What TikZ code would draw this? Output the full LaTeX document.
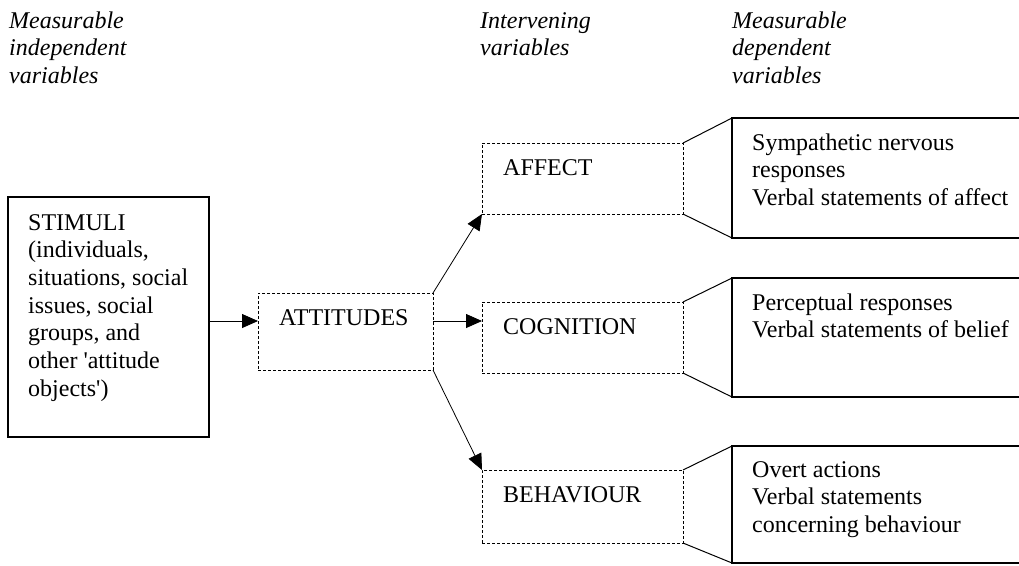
\documentclass[tikz,border=0pt]{standalone}
\usepackage{fontspec}
\setmainfont{Liberation Serif}
\usetikzlibrary{arrows.meta}
\newcommand{\zeilen}[1]{\begin{tabular}[t]{@{}l@{}}#1\end{tabular}}
\tikzset{rahmen/.style = {
    shape=rectangle, draw=black, line width=1.1pt, outer sep=0pt, anchor=north west
}}
\tikzset{strichrahmen/.style = {
    shape=rectangle, draw=black, line width=0.9pt, dash pattern=on 3pt off 2pt,
    outer sep=0pt, anchor=north west
}}
\tikzset{pfeil/.style = {
    draw=black, line width=0.8pt, -{Triangle[length=16pt, width=14pt]}
}}
\tikzset{linie/.style = {
    draw=black, line width=1pt
}}
\tikzset{schrift/.style = {
    anchor=base west, inner sep=0pt, font=\fontsize{24}{27.7}\selectfont
}}
\tikzset{kopf/.style = {
    schrift, font=\fontsize{24}{27.7}\selectfont\itshape
}}

\begin{document}
\begin{tikzpicture}[x=1pt, y=-1pt]
  \useasboundingbox (0,0) rectangle (1019,565);
  % Spaltenkoepfe
  \node[kopf] (kopfa) at (9,28) {\zeilen{Measurable\\independent\\variables}};
  \node[kopf] (kopfb) at (480,28) {\zeilen{Intervening\\variables}};
  \node[kopf] (kopfc) at (732,28) {\zeilen{Measurable\\dependent\\variables}};
  % Kaesten
  \node[rahmen, minimum width=201pt, minimum height=240pt] (stimuli) at (8,197) {};
  \node[strichrahmen, minimum width=175pt, minimum height=77pt] (attitudes) at (258,293) {};
  \node[strichrahmen, minimum width=201pt, minimum height=71pt] (affect) at (482,143) {};
  \node[strichrahmen, minimum width=201pt, minimum height=71pt] (cognition) at (482,302) {};
  \node[strichrahmen, minimum width=201pt, minimum height=73pt] (behaviour) at (482,470) {};
  \node[rahmen, minimum width=300pt, minimum height=120pt] (affectdep) at (732,118) {};
  \node[rahmen, minimum width=300pt, minimum height=119pt] (cognitiondep) at (732,278) {};
  \node[rahmen, minimum width=300pt, minimum height=117pt] (behaviourdep) at (732,446) {};
  % Texte
  \node[schrift] (stimulitext) at ([shift={(20,33)}]stimuli.north west)
    {\zeilen{STIMULI\\(individuals,\\situations, social\\issues, social\\groups, and\\other \textquotesingle attitude\\objects\textquotesingle)}};
  \node[schrift] (attitudestext) at ([shift={(21,32)}]attitudes.north west) {ATTITUDES};
  \node[schrift] (affecttext) at ([shift={(21,32)}]affect.north west) {AFFECT};
  \node[schrift] (cognitiontext) at ([shift={(21,32)}]cognition.north west) {COGNITION};
  \node[schrift] (behaviourtext) at ([shift={(21,32)}]behaviour.north west) {BEHAVIOUR};
  \node[schrift] (affectdeptext) at ([shift={(20,32)}]affectdep.north west)
    {\zeilen{Sympathetic nervous\\responses\\Verbal statements of affect}};
  \node[schrift] (cognitiondeptext) at ([shift={(20,32)}]cognitiondep.north west)
    {\zeilen{Perceptual responses\\Verbal statements of belief}};
  \node[schrift] (behaviourdeptext) at ([shift={(20,31)}]behaviourdep.north west)
    {\zeilen{Overt actions\\Verbal statements\\concerning behaviour}};
  % Pfeile
  \coordinate (mitte) at (0,321);
  \draw[pfeil] (stimuli.east |- mitte) -- (attitudes.west |- mitte);
  \draw[pfeil] (attitudes.east |- mitte) -- (cognition.west |- mitte);
  \draw[pfeil] (attitudes.north east) -- (affect.south west);
  \draw[pfeil] (attitudes.south east) -- (behaviour.north west);
  % Verbindungen
  \draw[linie] (affect.north east) -- (affectdep.north west);
  \draw[linie] (affect.south east) -- (affectdep.south west);
  \draw[linie] (cognition.north east) -- (cognitiondep.north west);
  \draw[linie] (cognition.south east) -- (cognitiondep.south west);
  \draw[linie] (behaviour.north east) -- (behaviourdep.north west);
  \draw[linie] (behaviour.south east) -- (behaviourdep.south west);
\end{tikzpicture}
\end{document}
